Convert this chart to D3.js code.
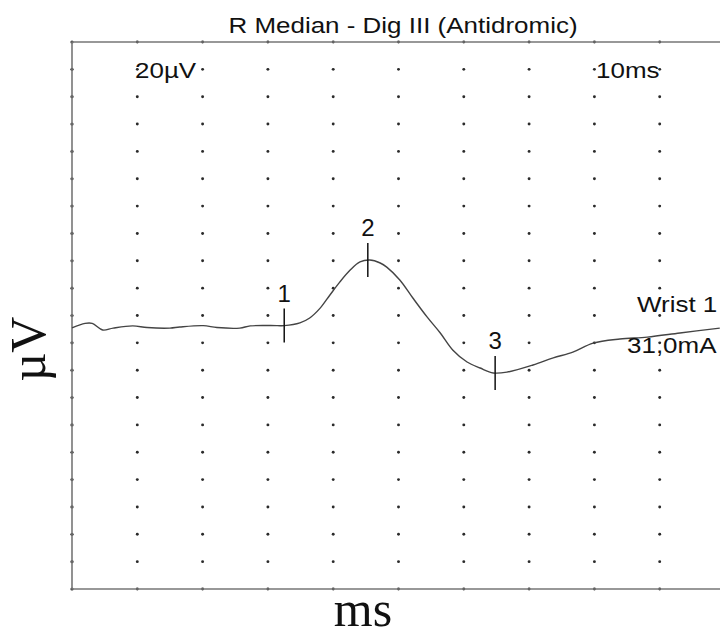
<!DOCTYPE html>
<html>
<head>
<meta charset="utf-8">
<script src="https://cdn.jsdelivr.net/npm/d3@7"></script>
<style>
  body { margin: 0; background: #fff; }
  svg { display: block; }
  .lbl { font-family: "Liberation Sans", Arial, sans-serif; font-size: 22px; fill: #111; }
  .num { font-size: 24px; }
  .axis-title { font-family: "Liberation Serif", "Times New Roman", serif; font-size: 50px; fill: #111; }
</style>
</head>
<body>
<svg id="chart" width="720" height="636"></svg>
<script>
// trace: time (ms) and amplitude (µV)
const timeMs = [0.00, 0.20, 0.31, 0.47, 0.63, 0.93, 1.15, 1.50, 1.65, 2.01, 2.22, 2.57, 2.73, 3.14, 3.25,
  3.49, 3.64, 3.80, 3.95, 4.10, 4.26, 4.41, 4.56, 4.72, 4.82, 5.02, 5.22, 5.44, 5.64, 5.83, 6.05, 6.25,
  6.45, 6.66, 7.06, 7.37, 7.67, 7.98, 8.39, 8.81, 9.31, 9.92];
const amplitudeUv = [-4.5, -2.9, -2.9, -5.3, -4.6, -3.8, -4.4, -4.6, -4.2, -3.7, -4.4, -4.6, -3.8, -3.7, -3.7,
  -2.7, -0.9, 2.7, 7.5, 12.2, 16.6, 19.6, 20.3, 19.2, 17.7, 13.0, 6.4, -0.6, -6.4, -12.6, -17.0, -19.2,
  -21.0, -20.7, -18.1, -15.5, -13.4, -10.1, -8.6, -7.9, -6.4, -4.6];

const markerLabels = ["1", "2", "3"];
const markerTimes = [3.25, 4.53, 6.48];
const markerAmps = [-3.7, 20.3, -21.0];

const titleText = "R Median - Dig III (Antidromic)";
const gainText = "20µV";
const sweepText = "10ms";
const siteLabels = ["Wrist 1", "31,0mA"];

const svg = d3.select("#chart");
const plotLeft = 72, plotTop = 42, plotBottom = 589, plotRight = 725;

const x = d3.scaleLinear().domain([0, 10]).range([plotLeft, plotRight]);
const y = d3.scaleLinear().domain([-100, 100]).range([plotBottom, plotTop]);

// white page
svg.append("rect").attr("width", 720).attr("height", 636).attr("fill", "#fff");

// dot grid, one dot per division
const grid = svg.append("g");
const cols = x.ticks(10);
const rows = y.ticks(20);
cols.forEach((t) => {
  grid.selectAll(null)
    .data(rows)
    .enter()
    .append("circle")
    .attr("cx", x(t))
    .attr("cy", (d) => y(d))
    .attr("r", t === 0 ? 1.6 : 1.45)
    .attr("fill", "#2a2a2a");
});

// frame (left, top, bottom; right edge falls outside the window)
svg.append("path")
  .attr("d", `M${plotRight},${plotTop}H${plotLeft}V${plotBottom}H${plotRight}`)
  .attr("fill", "none")
  .attr("stroke", "#777")
  .attr("stroke-width", 1.6);

// trace
const line = d3.line()
  .x((d, i) => x(timeMs[i]))
  .y((d) => y(d))
  .curve(d3.curveCatmullRom.alpha(0.5));

svg.append("path")
  .datum(amplitudeUv)
  .attr("d", line)
  .attr("fill", "none")
  .attr("stroke", "#444")
  .attr("stroke-width", 1.4);

// stretch helper: the picture's sans text is a bit wider than the font
function stretch(sel, factor) {
  sel.each(function () {
    const w = this.getComputedTextLength();
    d3.select(this).attr("textLength", w * factor).attr("lengthAdjust", "spacingAndGlyphs");
  });
}
const wide = 1.18;

// markers
const marks = svg.append("g");
markerTimes.forEach((t, i) => {
  const cx = x(t), cy = y(markerAmps[i]);
  marks.append("line")
    .attr("x1", cx).attr("x2", cx)
    .attr("y1", cy - 17).attr("y2", cy + 17)
    .attr("stroke", "#111")
    .attr("stroke-width", 1.5);
  marks.append("text")
    .attr("class", "lbl num")
    .attr("x", cx)
    .attr("y", cy - 24)
    .attr("text-anchor", "middle")
    .text(markerLabels[i]);
});

// title and settings
svg.append("text").attr("class", "lbl")
  .attr("x", 403).attr("y", 33).attr("text-anchor", "middle")
  .text(titleText).call(stretch, wide);

svg.append("text").attr("class", "lbl")
  .attr("x", 135).attr("y", 78)
  .text(gainText).call(stretch, wide);

svg.append("text").attr("class", "lbl")
  .attr("x", 596).attr("y", 78)
  .text(sweepText).call(stretch, wide);

svg.append("text").attr("class", "lbl")
  .attr("x", 637).attr("y", 312)
  .text(siteLabels[0]).call(stretch, wide);

svg.append("text").attr("class", "lbl")
  .attr("x", 627).attr("y", 353)
  .text(siteLabels[1]).call(stretch, wide);

// axis titles
svg.append("text").attr("class", "axis-title")
  .attr("x", 363).attr("y", 626).attr("text-anchor", "middle")
  .text("ms");

svg.append("text").attr("class", "axis-title")
  .attr("transform", "translate(45,349) rotate(-90)")
  .attr("text-anchor", "middle")
  .text("µV");
</script>
</body>
</html>
